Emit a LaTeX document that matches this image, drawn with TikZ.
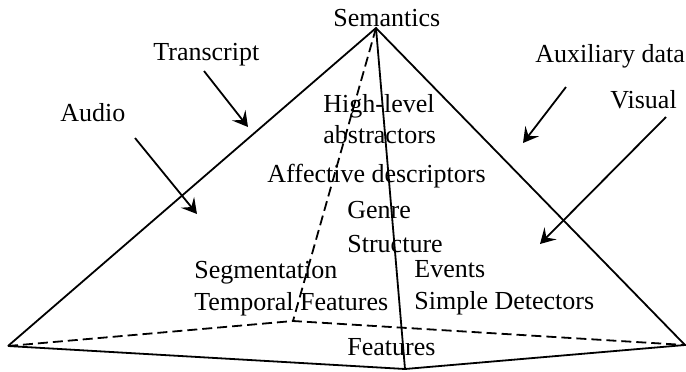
\documentclass[tikz,border=0pt]{standalone}
\usepackage{fontspec}
\setmainfont{Liberation Serif}
\usetikzlibrary{arrows.meta}
\begin{document}
\begin{tikzpicture}[x=0.5pt,y=-0.5pt,
  edge/.style={line width=0.9pt},
  hidden/.style={line width=0.9pt,dash pattern=on 5pt off 2.5pt},
  feed/.style={line width=0.9pt,-{Stealth[length=7.5pt,width=8.5pt,inset=3pt]}},
  lbl/.style={anchor=base west,inner sep=0pt,font=\fontsize{13}{15}\selectfont}]
\useasboundingbox (0,0) rectangle (686,371);
% pyramid vertices
\coordinate (apex) at (376,28);
\coordinate (left) at (8,346);
\coordinate (right) at (685,345);
\coordinate (front) at (405,369);
\coordinate (back) at (293,321);
\draw[edge] (left) -- (apex) -- (right) -- (front) -- (left);
\draw[edge] (apex) -- (front);
\draw[hidden] (apex) -- (back);
\draw[hidden] (left) -- (back) -- (right);
% labels
\node[lbl] (sem) at (333,26) {Semantics};
\node[lbl] (trans) at (153,60) {Transcript};
\node[lbl] (audio) at (60,121) {Audio};
\node[lbl] (aux) at (535,62) {Auxiliary data};
\node[lbl] (vis) at (610,108) {Visual};
\node[lbl] (hl) at (323,112) {High-level};
\node[lbl] (abs) at (323,143) {abstractors};
\node[lbl] (aff) at (267,182) {Affective descriptors};
\node[lbl] (genre) at (347,218) {Genre};
\node[lbl] (struct) at (347,252) {Structure};
\node[lbl] (seg) at (194,278) {Segmentation};
\node[lbl] (temp) at (194,310) {Temporal Features};
\node[lbl] (ev) at (414,277) {Events};
\node[lbl] (sd) at (414,309) {Simple Detectors};
\node[lbl] (feat) at (347,355) {Features};
% input arrows
\coordinate (t0) at (204,71);  \coordinate (t1) at (248,127);
\coordinate (a0) at (135,138); \coordinate (a1) at (197,214);
\coordinate (x0) at (566,87);  \coordinate (x1) at (523,143);
\coordinate (v0) at (666,117); \coordinate (v1) at (540,244);
\draw[feed] (t0) -- (t1);
\draw[feed] (a0) -- (a1);
\draw[feed] (x0) -- (x1);
\draw[feed] (v0) -- (v1);
\end{tikzpicture}
\end{document}
